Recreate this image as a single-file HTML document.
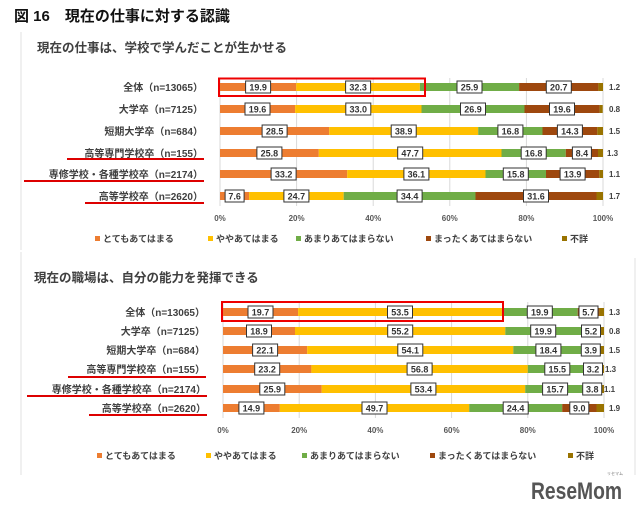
<!DOCTYPE html>
<html><head><meta charset="utf-8"><style>
html,body{margin:0;padding:0;background:#fff;}
svg{display:block;font-family:"Liberation Sans","Noto Sans CJK JP",sans-serif;}
.lab{font-size:10px;fill:#404040;font-weight:bold;text-anchor:end;}
.v{font-size:9px;fill:#333;font-weight:bold;text-anchor:middle;}
.r{font-size:8px;fill:#404040;font-weight:bold;}
.ax{font-size:8px;fill:#595959;font-weight:bold;text-anchor:middle;}
.lg{font-size:9px;fill:#404040;font-weight:bold;}
.bx{fill:#fff;stroke:#333;stroke-width:1;}
.g{stroke:#d9d9d9;stroke-width:1;}
</style></head><body>
<svg width="640" height="510" viewBox="0 0 640 510" xmlns="http://www.w3.org/2000/svg">
<text x="14" y="21" font-size="15" font-weight="bold" fill="#111">図 16　現在の仕事に対する認識</text>
<line x1="21" y1="32" x2="21" y2="250" stroke="#e0e0e0"/>
<text x="37" y="52" font-size="12.5" font-weight="bold" fill="#404040">現在の仕事は、学校で学んだことが生かせる</text>
<g class="g"><line x1="220" y1="78" x2="220" y2="206"/><line x1="296.6" y1="78" x2="296.6" y2="206"/><line x1="373.2" y1="78" x2="373.2" y2="206"/><line x1="449.8" y1="78" x2="449.8" y2="206"/><line x1="526.4" y1="78" x2="526.4" y2="206"/><line x1="603" y1="78" x2="603" y2="206"/></g>
<g class="ax"><text x="220" y="221">0%</text><text x="296.6" y="221">20%</text><text x="373.2" y="221">40%</text><text x="449.8" y="221">60%</text><text x="526.4" y="221">80%</text><text x="603" y="221">100%</text></g>
<g class="lab"><text x="203" y="91">全体（n=13065）</text><text x="203" y="113">大学卒（n=7125）</text><text x="203" y="135">短期大学卒（n=684）</text><text x="203" y="157">高等専門学校卒（n=155）</text><text x="203" y="178">専修学校・各種学校卒（n=2174）</text><text x="203" y="200">高等学校卒（n=2620）</text></g>
<g fill="#d00" ><rect x="67" y="158" width="137" height="2"/><rect x="24" y="180" width="180" height="2"/><rect x="85" y="202" width="119" height="2"/></g>
<!-- chart1 bars -->
<g>
<rect x="220" y="83" width="76.2" height="8" fill="#ED7D31"/><rect x="296.2" y="83" width="123.7" height="8" fill="#FFC000"/><rect x="419.9" y="83" width="99.2" height="8" fill="#70AD47"/><rect x="519.1" y="83" width="79.3" height="8" fill="#9E480E"/><rect x="598.4" y="83" width="4.6" height="8" fill="#997300"/>
<rect x="220" y="105" width="75.1" height="8" fill="#ED7D31"/><rect x="295.1" y="105" width="126.4" height="8" fill="#FFC000"/><rect x="421.5" y="105" width="103" height="8" fill="#70AD47"/><rect x="524.5" y="105" width="75.1" height="8" fill="#9E480E"/><rect x="599.6" y="105" width="3.1" height="8" fill="#997300"/>
<rect x="220" y="127" width="109.2" height="8" fill="#ED7D31"/><rect x="329.2" y="127" width="149" height="8" fill="#FFC000"/><rect x="478.2" y="127" width="64.3" height="8" fill="#70AD47"/><rect x="542.5" y="127" width="54.8" height="8" fill="#9E480E"/><rect x="597.3" y="127" width="5.7" height="8" fill="#997300"/>
<rect x="220" y="149" width="98.8" height="8" fill="#ED7D31"/><rect x="318.8" y="149" width="182.7" height="8" fill="#FFC000"/><rect x="501.5" y="149" width="64.3" height="8" fill="#70AD47"/><rect x="565.8" y="149" width="32.2" height="8" fill="#9E480E"/><rect x="598" y="149" width="5" height="8" fill="#997300"/>
<rect x="220" y="170" width="127.2" height="8" fill="#ED7D31"/><rect x="347.2" y="170" width="138.3" height="8" fill="#FFC000"/><rect x="485.5" y="170" width="60.5" height="8" fill="#70AD47"/><rect x="546" y="170" width="53.2" height="8" fill="#9E480E"/><rect x="599.2" y="170" width="3.8" height="8" fill="#997300"/>
<rect x="220" y="192" width="29.1" height="8" fill="#ED7D31"/><rect x="249.1" y="192" width="94.6" height="8" fill="#FFC000"/><rect x="343.7" y="192" width="131.8" height="8" fill="#70AD47"/><rect x="475.5" y="192" width="121" height="8" fill="#9E480E"/><rect x="596.5" y="192" width="6.5" height="8" fill="#997300"/>
</g>
<g>
<rect class="bx" x="245.6" y="81" width="25" height="12"/><rect class="bx" x="345.6" y="81" width="25" height="12"/><rect class="bx" x="457" y="81" width="25" height="12"/><rect class="bx" x="546.3" y="81" width="25" height="12"/>
<rect class="bx" x="245" y="103" width="25" height="12"/><rect class="bx" x="345.8" y="103" width="25" height="12"/><rect class="bx" x="460.5" y="103" width="25" height="12"/><rect class="bx" x="549.5" y="103" width="25" height="12"/>
<rect class="bx" x="262.1" y="125" width="25" height="12"/><rect class="bx" x="391.2" y="125" width="25" height="12"/><rect class="bx" x="497.9" y="125" width="25" height="12"/><rect class="bx" x="557.4" y="125" width="25" height="12"/>
<rect class="bx" x="256.9" y="147" width="25" height="12"/><rect class="bx" x="397.7" y="147" width="25" height="12"/><rect class="bx" x="521.2" y="147" width="25" height="12"/><rect class="bx" x="572.4" y="147" width="19" height="12"/>
<rect class="bx" x="271.1" y="168" width="25" height="12"/><rect class="bx" x="403.9" y="168" width="25" height="12"/><rect class="bx" x="503.3" y="168" width="25" height="12"/><rect class="bx" x="560.1" y="168" width="25" height="12"/>
<rect class="bx" x="225.1" y="190" width="19" height="12"/><rect class="bx" x="283.9" y="190" width="25" height="12"/><rect class="bx" x="397.1" y="190" width="25" height="12"/><rect class="bx" x="523.5" y="190" width="25" height="12"/>
</g>
<g class="v">
<text x="258.1" y="90.5">19.9</text><text x="358.1" y="90.5">32.3</text><text x="469.5" y="90.5">25.9</text><text x="558.8" y="90.5">20.7</text>
<text x="257.5" y="112.5">19.6</text><text x="358.3" y="112.5">33.0</text><text x="473" y="112.5">26.9</text><text x="562" y="112.5">19.6</text>
<text x="274.6" y="134.5">28.5</text><text x="403.7" y="134.5">38.9</text><text x="510.4" y="134.5">16.8</text><text x="569.9" y="134.5">14.3</text>
<text x="269.4" y="156.5">25.8</text><text x="410.2" y="156.5">47.7</text><text x="533.7" y="156.5">16.8</text><text x="581.9" y="156.5">8.4</text>
<text x="283.6" y="177.5">33.2</text><text x="416.4" y="177.5">36.1</text><text x="515.8" y="177.5">15.8</text><text x="572.6" y="177.5">13.9</text>
<text x="234.6" y="199.5">7.6</text><text x="296.4" y="199.5">24.7</text><text x="409.6" y="199.5">34.4</text><text x="536" y="199.5">31.6</text>
</g>
<g class="r"><text x="609" y="90">1.2</text><text x="609" y="112">0.8</text><text x="609" y="134">1.5</text><text x="607" y="156">1.3</text><text x="609" y="177">1.1</text><text x="609" y="199">1.7</text></g>
<rect x="219" y="78.5" width="206" height="17.5" fill="none" stroke="#e00" stroke-width="2"/>
<g class="lg">
<rect x="95" y="236" width="5" height="5" fill="#ED7D31"/><text x="103" y="242">とてもあてはまる</text>
<rect x="208" y="236" width="5" height="5" fill="#FFC000"/><text x="216" y="242">ややあてはまる</text>
<rect x="296" y="236" width="5" height="5" fill="#70AD47"/><text x="304" y="242">あまりあてはまらない</text>
<rect x="426" y="236" width="5" height="5" fill="#9E480E"/><text x="434" y="242">まったくあてはまらない</text>
<rect x="562" y="236" width="5" height="5" fill="#997300"/><text x="570" y="242">不詳</text>
</g>

<!-- chart 2 -->
<line x1="21" y1="252" x2="21" y2="475" stroke="#e0e0e0"/>
<line x1="635" y1="258" x2="635" y2="475" stroke="#e0e0e0"/>
<text x="34" y="282" font-size="12.5" font-weight="bold" fill="#404040">現在の職場は、自分の能力を発揮できる</text>
<g class="g"><line x1="223" y1="302" x2="223" y2="418"/><line x1="299.2" y1="302" x2="299.2" y2="418"/><line x1="375.4" y1="302" x2="375.4" y2="418"/><line x1="451.6" y1="302" x2="451.6" y2="418"/><line x1="527.8" y1="302" x2="527.8" y2="418"/><line x1="604" y1="302" x2="604" y2="418"/></g>
<g class="ax"><text x="223" y="433">0%</text><text x="299.2" y="433">20%</text><text x="375.4" y="433">40%</text><text x="451.6" y="433">60%</text><text x="527.8" y="433">80%</text><text x="604" y="433">100%</text></g>
<g class="lab"><text x="205" y="316">全体（n=13065）</text><text x="205" y="335">大学卒（n=7125）</text><text x="205" y="354">短期大学卒（n=684）</text><text x="205" y="373">高等専門学校卒（n=155）</text><text x="206" y="393">専修学校・各種学校卒（n=2174）</text><text x="206" y="412">高等学校卒（n=2620）</text></g>
<g fill="#d00"><rect x="68" y="376" width="138" height="2"/><rect x="27" y="395" width="180" height="2"/><rect x="89" y="414" width="118" height="2"/></g>
<g>
<rect x="223" y="308" width="75.1" height="8" fill="#ED7D31"/><rect x="298.1" y="308" width="203.8" height="8" fill="#FFC000"/><rect x="501.9" y="308" width="75.8" height="8" fill="#70AD47"/><rect x="577.7" y="308" width="21.7" height="8" fill="#9E480E"/><rect x="599.4" y="308" width="4.6" height="8" fill="#997300"/>
<rect x="223" y="327" width="72" height="8" fill="#ED7D31"/><rect x="295" y="327" width="210.3" height="8" fill="#FFC000"/><rect x="505.3" y="327" width="75.8" height="8" fill="#70AD47"/><rect x="581.1" y="327" width="19.8" height="8" fill="#9E480E"/><rect x="600.9" y="327" width="3.1" height="8" fill="#997300"/>
<rect x="223" y="346" width="84.2" height="8" fill="#ED7D31"/><rect x="307.2" y="346" width="206.1" height="8" fill="#FFC000"/><rect x="513.3" y="346" width="70.1" height="8" fill="#70AD47"/><rect x="583.4" y="346" width="14.9" height="8" fill="#9E480E"/><rect x="598.3" y="346" width="5.7" height="8" fill="#997300"/>
<rect x="223" y="365" width="88.4" height="8" fill="#ED7D31"/><rect x="311.4" y="365" width="216.4" height="8" fill="#FFC000"/><rect x="527.8" y="365" width="59.1" height="8" fill="#70AD47"/><rect x="586.9" y="365" width="12.2" height="8" fill="#9E480E"/><rect x="599.1" y="365" width="4.9" height="8" fill="#997300"/>
<rect x="223" y="385" width="98.7" height="8" fill="#ED7D31"/><rect x="321.7" y="385" width="203.5" height="8" fill="#FFC000"/><rect x="525.2" y="385" width="59.8" height="8" fill="#70AD47"/><rect x="585" y="385" width="14.5" height="8" fill="#9E480E"/><rect x="599.5" y="385" width="4.5" height="8" fill="#997300"/>
<rect x="223" y="404" width="56.8" height="8" fill="#ED7D31"/><rect x="279.8" y="404" width="189.4" height="8" fill="#FFC000"/><rect x="469.2" y="404" width="93" height="8" fill="#70AD47"/><rect x="562.2" y="404" width="34.3" height="8" fill="#9E480E"/><rect x="596.5" y="404" width="7.5" height="8" fill="#997300"/>
</g>
<g>
<rect class="bx" x="248" y="306" width="25" height="12"/><rect class="bx" x="387.5" y="306" width="25" height="12"/><rect class="bx" x="527.3" y="306" width="25" height="12"/><rect class="bx" x="579" y="306" width="19" height="12"/>
<rect class="bx" x="246.5" y="325" width="25" height="12"/><rect class="bx" x="387.7" y="325" width="25" height="12"/><rect class="bx" x="530.7" y="325" width="25" height="12"/><rect class="bx" x="581.5" y="325" width="19" height="12"/>
<rect class="bx" x="252.6" y="344" width="25" height="12"/><rect class="bx" x="397.8" y="344" width="25" height="12"/><rect class="bx" x="535.9" y="344" width="25" height="12"/><rect class="bx" x="581.3" y="344" width="19" height="12"/>
<rect class="bx" x="254.7" y="363" width="25" height="12"/><rect class="bx" x="407.1" y="363" width="25" height="12"/><rect class="bx" x="544.8" y="363" width="25" height="12"/><rect class="bx" x="583.5" y="363" width="19" height="12"/>
<rect class="bx" x="259.8" y="383" width="25" height="12"/><rect class="bx" x="410.9" y="383" width="25" height="12"/><rect class="bx" x="542.6" y="383" width="25" height="12"/><rect class="bx" x="582.7" y="383" width="19" height="12"/>
<rect class="bx" x="238.9" y="402" width="25" height="12"/><rect class="bx" x="362" y="402" width="25" height="12"/><rect class="bx" x="503.2" y="402" width="25" height="12"/><rect class="bx" x="569.8" y="402" width="19" height="12"/>
</g>
<g class="v">
<text x="260.5" y="315.5">19.7</text><text x="400" y="315.5">53.5</text><text x="539.8" y="315.5">19.9</text><text x="588.5" y="315.5">5.7</text>
<text x="259" y="334.5">18.9</text><text x="400.2" y="334.5">55.2</text><text x="543.2" y="334.5">19.9</text><text x="591" y="334.5">5.2</text>
<text x="265.1" y="353.5">22.1</text><text x="410.3" y="353.5">54.1</text><text x="548.4" y="353.5">18.4</text><text x="590.8" y="353.5">3.9</text>
<text x="267.2" y="372.5">23.2</text><text x="419.6" y="372.5">56.8</text><text x="557.3" y="372.5">15.5</text><text x="593" y="372.5">3.2</text>
<text x="272.3" y="392.5">25.9</text><text x="423.4" y="392.5">53.4</text><text x="555.1" y="392.5">15.7</text><text x="592.2" y="392.5">3.8</text>
<text x="251.4" y="411.5">14.9</text><text x="374.5" y="411.5">49.7</text><text x="515.7" y="411.5">24.4</text><text x="579.3" y="411.5">9.0</text>
</g>
<g class="r"><text x="609" y="315">1.3</text><text x="609" y="334">0.8</text><text x="609" y="353">1.5</text><text x="605" y="372">1.3</text><text x="604" y="392">1.1</text><text x="609" y="411">1.9</text></g>
<rect x="222" y="302" width="281" height="19" fill="none" stroke="#e00" stroke-width="2"/>
<g class="lg">
<rect x="97" y="453" width="5" height="5" fill="#ED7D31"/><text x="105" y="459">とてもあてはまる</text>
<rect x="206" y="453" width="5" height="5" fill="#FFC000"/><text x="214" y="459">ややあてはまる</text>
<rect x="302" y="453" width="5" height="5" fill="#70AD47"/><text x="310" y="459">あまりあてはまらない</text>
<rect x="430" y="453" width="5" height="5" fill="#9E480E"/><text x="438" y="459">まったくあてはまらない</text>
<rect x="568" y="453" width="5" height="5" fill="#997300"/><text x="576" y="459">不詳</text>
</g>
<text x="531" y="499" font-size="24" font-weight="bold" fill="#555" textLength="91" lengthAdjust="spacingAndGlyphs">ReseMom</text>
<text x="607" y="475" font-size="4" fill="#777">リセマム</text>
</svg>
</body></html>
